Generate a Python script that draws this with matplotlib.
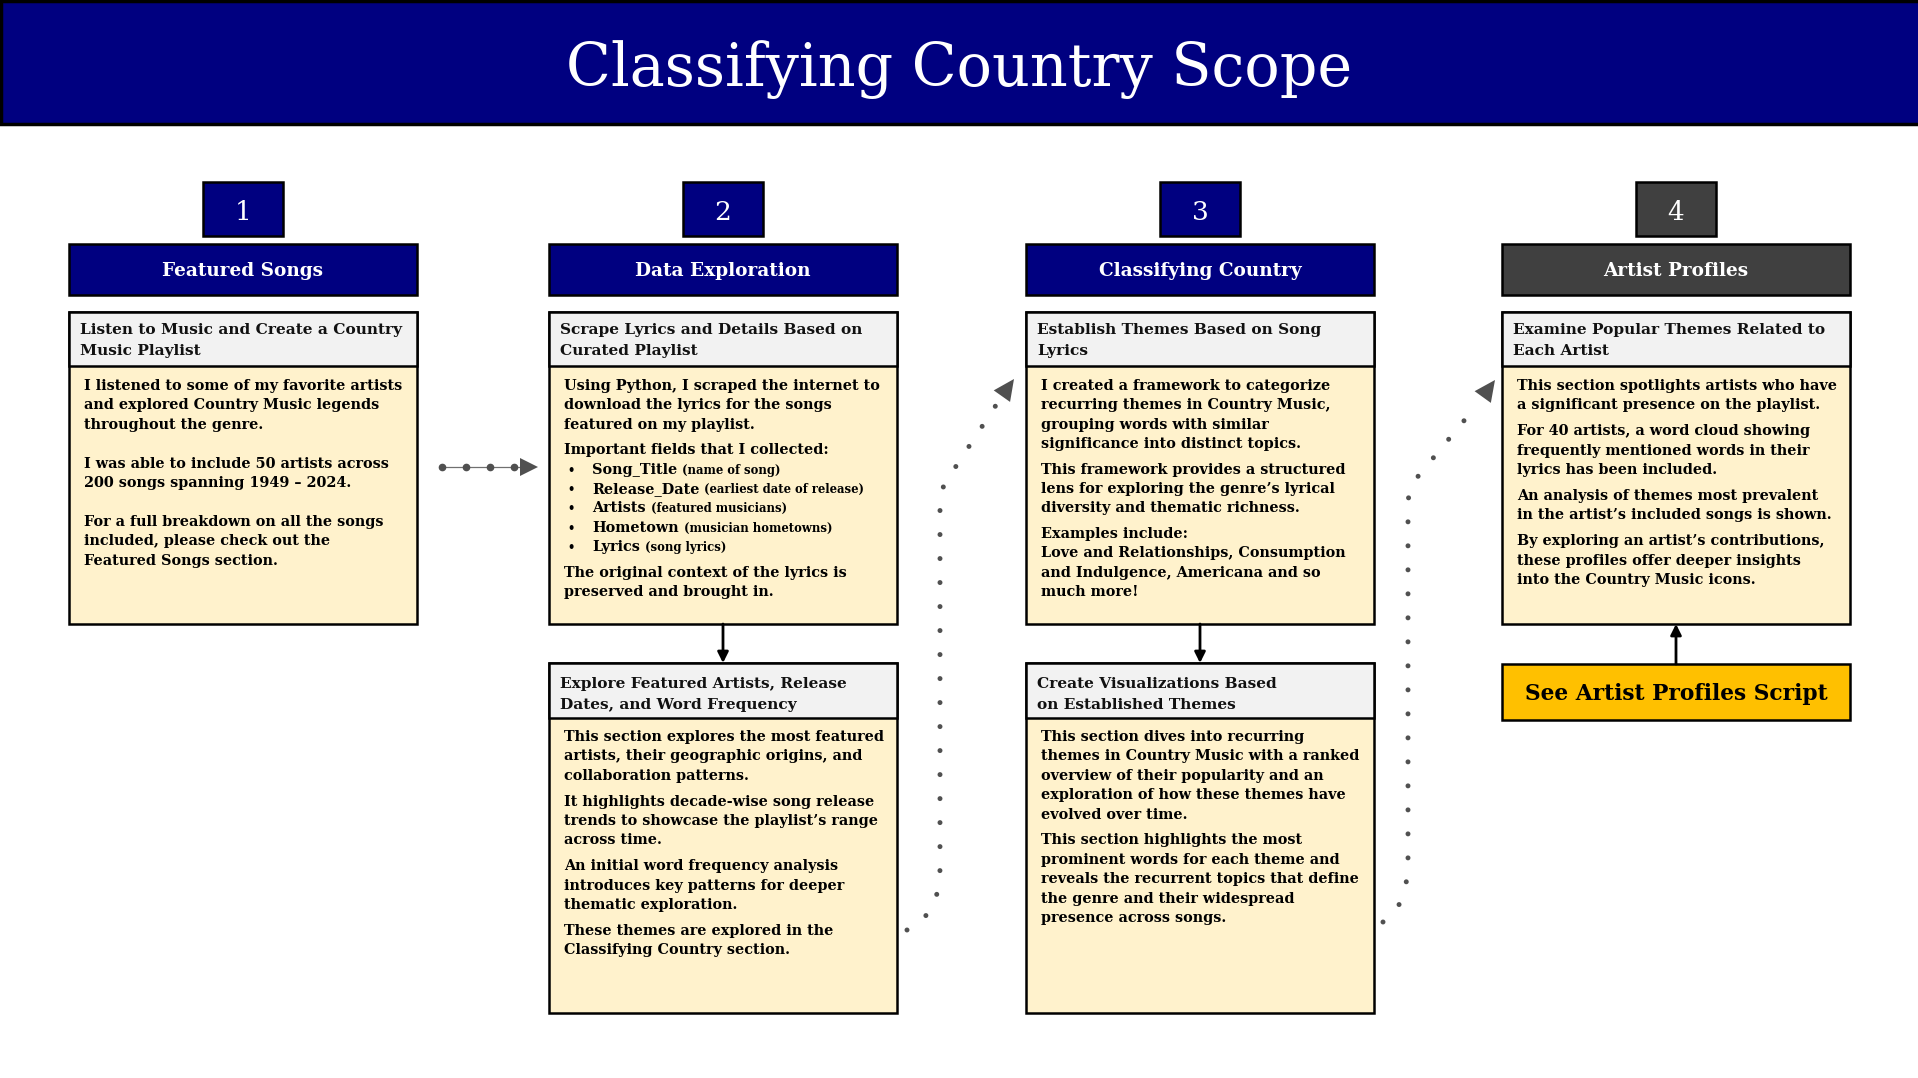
import numpy as np
import matplotlib.pyplot as plt
from matplotlib.patches import Rectangle, Polygon, PathPatch
from matplotlib.path import Path

W, H = 1918, 1078
NAVY = '#000080'
DARK = '#404040'
SUB_FILL = '#F2F2F2'
BODY_FILL = '#FFF2CC'
GOLD = '#FFC000'
DOTS = '#505050'
SERIF = 'DejaVu Serif'

# ---- content ----
title = "Classifying Country Scope"
step_numbers = ["1", "2", "3", "4"]
step_titles = ["Featured Songs", "Data Exploration", "Classifying Country", "Artist Profiles"]
step_colors = [NAVY, NAVY, NAVY, DARK]

sub_upper = [
    ["Listen to Music and Create a Country", "Music Playlist"],
    ["Scrape Lyrics and Details Based on", "Curated Playlist"],
    ["Establish Themes Based on Song", "Lyrics"],
    ["Examine Popular Themes Related to", "Each Artist"],
]
body_upper = [
    [["I listened to some of my favorite artists",
      "and explored Country Music legends",
      "throughout the genre."],
     ["I was able to include 50 artists across",
      "200 songs spanning 1949 \u2013 2024."],
     ["For a full breakdown on all the songs",
      "included, please check out the",
      "Featured Songs section."]],
    [["Using Python, I scraped the internet to",
      "download the lyrics for the songs",
      "featured on my playlist."],
     ["Important fields that I collected:",
      ("Song_Title", "(name of song)"),
      ("Release_Date", "(earliest date of release)"),
      ("Artists", "(featured musicians)"),
      ("Hometown", "(musician hometowns)"),
      ("Lyrics", "(song lyrics)")],
     ["The original context of the lyrics is",
      "preserved and brought in."]],
    [["I created a framework to categorize",
      "recurring themes in Country Music,",
      "grouping words with similar",
      "significance into distinct topics."],
     ["This framework provides a structured",
      "lens for exploring the genre\u2019s lyrical",
      "diversity and thematic richness."],
     ["Examples include:",
      "Love and Relationships, Consumption",
      "and Indulgence, Americana and so",
      "much more!"]],
    [["This section spotlights artists who have",
      "a significant presence on the playlist."],
     ["For 40 artists, a word cloud showing",
      "frequently mentioned words in their",
      "lyrics has been included."],
     ["An analysis of themes most prevalent",
      "in the artist\u2019s included songs is shown."],
     ["By exploring an artist\u2019s contributions,",
      "these profiles offer deeper insights",
      "into the Country Music icons."]],
]
para_gap_upper = [19.4, 6, 6, 6.5]

# lower boxes: column index -> content
sub_lower = {
    1: ["Explore Featured Artists, Release", "Dates, and Word Frequency"],
    2: ["Create Visualizations Based", "on Established Themes"],
}
body_lower = {
    1: [["This section explores the most featured",
         "artists, their geographic origins, and",
         "collaboration patterns."],
        ["It highlights decade-wise song release",
         "trends to showcase the playlist\u2019s range",
         "across time."],
        ["An initial word frequency analysis",
         "introduces key patterns for deeper",
         "thematic exploration."],
        ["These themes are explored in the",
         "Classifying Country section."]],
    2: [["This section dives into recurring",
         "themes in Country Music with a ranked",
         "overview of their popularity and an",
         "exploration of how these themes have",
         "evolved over time."],
        ["This section highlights the most",
         "prominent words for each theme and",
         "reveals the recurrent topics that define",
         "the genre and their widespread",
         "presence across songs."]],
}
button_text = "See Artist Profiles Script"

# ---- layout (pixels, y downwards) ----
col_left = [69, 549, 1026, 1502]
col_w = 348
num_w, num_top, num_h = 80, 182, 54
head_top, head_h = 244, 51
sub_top, sub_h, body_bot = 312, 54, 624
low_top, low_sub_h, low_bot = 663, 55, 1013
line_h, sub_line_h = 19.4, 21

fig = plt.figure(figsize=(W / 100, H / 100), dpi=100)
ax = fig.add_axes([0, 0, 1, 1])
ax.set_xlim(0, W)
ax.set_ylim(H, 0)
ax.axis('off')
renderer = fig.canvas.get_renderer()


def fit_size(s, target, weight='bold'):
    # font size that gives the string the width it has in the original
    t = ax.text(0, 0, s, fontsize=10, fontweight=weight, family=SERIF)
    w = t.get_window_extent(renderer).width
    t.remove()
    return 10 * target / w


fs_title = fit_size(title, 790, 'normal')
fs_body = fit_size(body_upper[0][0][0], 319)
fs_sub = fit_size(sub_upper[0][0], 323)
fs_head = fit_size(step_titles[0], 162)
fs_note = fit_size("(earliest date of release)", 161)
fs_btn = fit_size(button_text, 303)


def box(x, y, w, h, fc, lw=1.8):
    ax.add_patch(Rectangle((x, y), w, h, facecolor=fc, edgecolor='black', lw=lw, zorder=2))


def draw_body(x, y0, paras, gap):
    y = y0
    for i, para in enumerate(paras):
        if i > 0:
            y += gap
        for line in para:
            if isinstance(line, tuple):
                ax.text(x + 3, y, "\u2022", fontsize=fs_body * 0.8, fontweight='bold',
                        family=SERIF, va='baseline', zorder=3)
                t = ax.text(x + 28, y, line[0], fontsize=fs_body, fontweight='bold',
                            family=SERIF, va='baseline', zorder=3)
                bb = t.get_window_extent(renderer)
                ax.text(bb.x1 + 5, y, line[1], fontsize=fs_note, fontweight='bold',
                        family=SERIF, va='baseline', zorder=3)
            else:
                ax.text(x, y, line, fontsize=fs_body, fontweight='bold',
                        family=SERIF, va='baseline', zorder=3)
            y += line_h


def draw_sub(x, y0, lines):
    for k, line in enumerate(lines):
        ax.text(x, y0 + k * sub_line_h, line, fontsize=fs_sub, fontweight='bold',
                family=SERIF, va='baseline', color='#111111', zorder=3)


# title bar
ax.add_patch(Rectangle((1, 1), W + 5, 123, facecolor=NAVY, edgecolor='black', lw=2.5, zorder=2))
ax.text(W / 2, 70, title, fontsize=fs_title, color='white', family=SERIF,
        ha='center', va='center', zorder=3)

for i in range(4):
    x0 = col_left[i]
    cx = x0 + col_w / 2
    # number tab
    box(cx - num_w / 2, num_top, num_w, num_h, step_colors[i])
    ax.text(cx, num_top + num_h / 2 + 4, step_numbers[i], fontsize=19, color='white',
            family=SERIF, ha='center', va='center', zorder=3)
    # header
    box(x0, head_top, col_w, head_h, step_colors[i])
    ax.text(cx, head_top + head_h / 2 + 1, step_titles[i], fontsize=fs_head, color='white',
            fontweight='bold', family=SERIF, ha='center', va='center', zorder=3)
    # upper card
    box(x0, sub_top, col_w, body_bot - sub_top, BODY_FILL)
    box(x0, sub_top, col_w, sub_h, SUB_FILL)
    draw_sub(x0 + 11, 334, sub_upper[i])
    draw_body(x0 + 15, 390, body_upper[i], para_gap_upper[i])
    # lower card
    if i in sub_lower:
        box(x0, low_top, col_w, low_bot - low_top, BODY_FILL)
        box(x0, low_top, col_w, low_sub_h, SUB_FILL)
        draw_sub(x0 + 11, 688, sub_lower[i])
        draw_body(x0 + 15, 741, body_lower[i], 6.5)
        ax.annotate('', xy=(cx, low_top), xytext=(cx, body_bot),
                    arrowprops=dict(arrowstyle='-|>', color='black', lw=2,
                                    mutation_scale=16, shrinkA=0, shrinkB=0), zorder=3)

# button under column 4
bx = col_left[3]
box(bx, 664, col_w, 56, GOLD)
ax.text(bx + col_w / 2, 694, button_text, fontsize=fs_btn, fontweight='bold',
        family=SERIF, ha='center', va='center', zorder=3)
ax.annotate('', xy=(bx + col_w / 2, body_bot), xytext=(bx + col_w / 2, 664),
            arrowprops=dict(arrowstyle='-|>', color='black', lw=2,
                            mutation_scale=16, shrinkA=0, shrinkB=0), zorder=3)


def head(tip, direction, length=20, half=10, color=DOTS):
    d = np.asarray(direction, float)
    d /= np.hypot(*d)
    n = np.array([-d[1], d[0]])
    tip = np.asarray(tip, float)
    base = tip - length * d
    ax.add_patch(Polygon([tip, base + half * n, base - half * n], closed=True,
                         facecolor=color, edgecolor='none', zorder=4))


# step 1 -> step 2 connector
xs = np.arange(442, 520, 24)
ax.plot([442, 522], [467, 467], color='#707070', lw=0.9, zorder=3)
ax.plot(xs, np.full(len(xs), 467), 'o', color=DOTS, ms=4.5, zorder=3)
head((538, 467), (1, 0), length=18, half=9)

# dotted curved connectors (step 2 -> 3, step 3 -> 4)
for (sx, sy), vx, (ex, ey), tip in [((907, 930), 940, (1002, 396), (1014, 379)),
                                   ((1383, 922), 1408, (1477, 405), (1495, 380))]:
    verts = [(sx, sy), (vx, sy - 15), (vx, sy - 62), (vx, 505), (vx, 490), (vx + 7, 480), (ex, ey)]
    codes = [Path.MOVETO, Path.CURVE3, Path.CURVE3, Path.LINETO, Path.CURVE3, Path.CURVE3, Path.LINETO]
    ax.add_patch(PathPatch(Path(verts, codes), fill=False, edgecolor=DOTS, lw=3.6,
                           linestyle=(0, (0.001, 4.8)), capstyle='round', zorder=3))
    head(tip, (tip[0] - ex, tip[1] - ey), length=21, half=10)

fig.savefig('out.png', dpi=100, facecolor='white')
